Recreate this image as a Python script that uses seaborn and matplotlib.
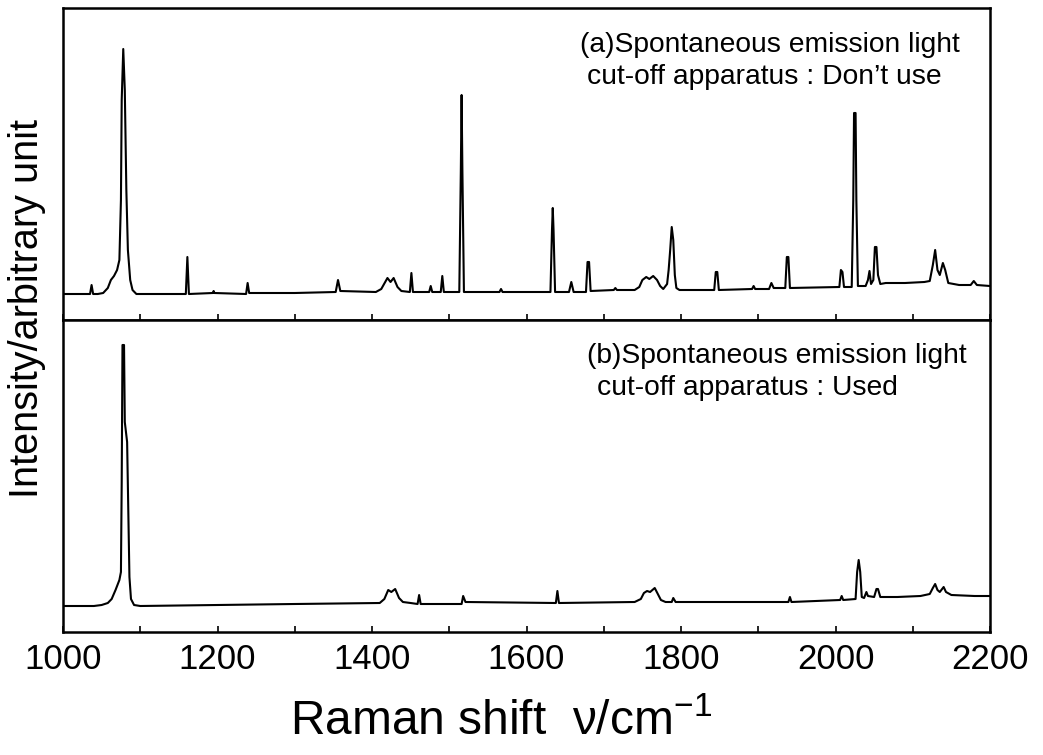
import numpy as np
import pandas as pd
import matplotlib
matplotlib.use("Agg")
import matplotlib.pyplot as plt
from matplotlib.ticker import MultipleLocator
import seaborn as sns

# ---- data (Raman shift in cm^-1, intensity in arbitrary units) ----
wn_a = [1000, 1035, 1037, 1039, 1045, 1052, 1058, 1062, 1066, 1070, 1073, 1075, 1076, 1078,
        1080, 1082, 1084, 1087, 1090, 1095, 1159, 1161, 1163, 1194, 1195, 1196, 1237, 1239,
        1241, 1300, 1353, 1356, 1359, 1405, 1412, 1420, 1424, 1428, 1433, 1438, 1449, 1451,
        1453, 1474, 1476, 1478, 1489, 1491, 1493, 1513, 1515, 1516, 1517, 1519, 1565, 1567,
        1569, 1631, 1633, 1634, 1635, 1637, 1655, 1658, 1661, 1677, 1679, 1681, 1683, 1713,
        1715, 1717, 1740, 1746, 1750, 1755, 1759, 1764, 1769, 1773, 1777, 1782, 1784, 1786,
        1788, 1790, 1792, 1794, 1798, 1843, 1845, 1847, 1849, 1892, 1894, 1896, 1914, 1917,
        1920, 1935, 1937, 1939, 1941, 2005, 2007, 2009, 2011, 2021, 2023, 2024, 2026, 2027,
        2029, 2039, 2042, 2044, 2046, 2049, 2051, 2053, 2055, 2058, 2065, 2090, 2115, 2122,
        2126, 2129, 2132, 2135, 2139, 2142, 2146, 2160, 2175, 2179, 2183, 2200]
int_a = [26, 26, 35, 26, 26, 27, 32, 40, 44, 50, 60, 120, 220, 271,
         230, 130, 70, 40, 30, 26, 26, 63, 26, 27, 29, 27, 26, 37,
         27, 27, 28, 40, 29, 28, 31, 42, 38, 42, 33, 29, 28, 47,
         28, 28, 34, 28, 28, 44, 28, 28, 150, 225, 150, 28, 28, 31,
         28, 28, 90, 112, 90, 28, 28, 38, 28, 28, 58, 58, 29, 30,
         32, 30, 30, 33, 40, 43, 41, 44, 40, 34, 31, 36, 50, 70,
         93, 80, 45, 32, 30, 30, 48, 48, 30, 31, 34, 31, 31, 37,
         32, 32, 63, 63, 32, 33, 50, 48, 33, 33, 120, 207, 207, 120,
         34, 34, 40, 49, 36, 40, 73, 73, 45, 36, 37, 37, 38, 39,
         55, 70, 50, 45, 57, 50, 37, 35, 35, 39, 35, 34]

wn_b = [1000, 1040, 1050, 1058, 1063, 1068, 1073, 1075, 1076, 1077, 1079, 1080, 1083, 1085,
        1086, 1088, 1092, 1100, 1300, 1410, 1416, 1421, 1425, 1430, 1435, 1440, 1450, 1459,
        1461, 1463, 1516, 1518, 1521, 1638, 1640, 1642, 1740, 1748, 1752, 1756, 1760, 1766,
        1770, 1774, 1780, 1788, 1790, 1793, 1900, 1939, 1941, 1943, 2006, 2008, 2010, 2026,
        2028, 2030, 2032, 2034, 2037, 2040, 2042, 2050, 2053, 2055, 2058, 2080, 2110, 2122,
        2126, 2129, 2132, 2135, 2140, 2143, 2150, 2180, 2200]
int_b = [26, 26, 27, 29, 33, 42, 52, 60, 150, 287, 287, 210, 190, 100,
         55, 33, 27, 26, 28, 29, 33, 42, 40, 43, 34, 30, 29, 28,
         37, 28, 28, 36, 30, 29, 41, 29, 30, 33, 39, 41, 40, 44,
         38, 32, 30, 30, 34, 30, 30, 30, 35, 30, 32, 36, 32, 33,
         60, 72, 60, 35, 34, 40, 36, 35, 43, 43, 35, 35, 36, 38,
         44, 48, 42, 40, 45, 40, 37, 36, 36]

tick_values = [1000, 1200, 1400, 1600, 1800, 2000, 2200]
tick_labels = ["1000", "1200", "1400", "1600", "1800", "2000", "2200"]
label_a = ["(a)Spontaneous emission light", "cut-off apparatus : Don\u2019t use"]
label_b = ["(b)Spontaneous emission light", "cut-off apparatus : Used"]

df_a = pd.DataFrame({"shift": wn_a, "intensity": int_a})
df_b = pd.DataFrame({"shift": wn_b, "intensity": int_b})

sns.set_style("white")
plt.rcParams["font.family"] = ["Liberation Sans", "DejaVu Sans"]
plt.rcParams["mathtext.fontset"] = "custom"
plt.rcParams["mathtext.rm"] = "Liberation Sans"
plt.rcParams["mathtext.it"] = "Liberation Sans"
plt.rcParams["text.color"] = "black"
plt.rcParams["xtick.color"] = "black"
plt.rcParams["xtick.labelcolor"] = "black"

fig = plt.figure(figsize=(10.43, 7.55), dpi=100)
W, H = 1043, 755
left, right = 63 / W, 990 / W
ax_a = fig.add_axes([left, (H - 320) / H, right - left, 312 / H])
ax_b = fig.add_axes([left, (H - 632) / H, right - left, 312 / H], sharex=ax_a)

for ax, df in ((ax_a, df_a), (ax_b, df_b)):
    sns.lineplot(data=df, x="shift", y="intensity", ax=ax, color="black",
                 linewidth=1.5, estimator=None, sort=False)
    ax.set_xlim(1000, 2200)
    ax.set_ylim(0, 312)
    ax.set_xlabel("")
    ax.set_ylabel("")
    ax.set_yticks([])
    for s in ax.spines.values():
        s.set_visible(True)
        s.set_linewidth(1.8)
        s.set_color("black")
    ax.xaxis.set_major_locator(MultipleLocator(200))
    ax.xaxis.set_minor_locator(MultipleLocator(100))
    ax.tick_params(axis="x", which="both", direction="in", length=4, width=1.2,
                   color="black", bottom=True, top=False)

ax_a.tick_params(axis="x", which="both", labelbottom=False)
ax_b.set_xticks(tick_values)
ax_b.set_xticklabels(tick_labels)
ax_b.tick_params(axis="x", which="major", labelsize=25, pad=8, labelcolor="black")

# panel annotations
fs = 20.3
fig.text(580 / W, (H - 52) / H, label_a[0], fontsize=fs, ha="left", va="baseline")
fig.text(587 / W, (H - 84) / H, label_a[1], fontsize=fs, ha="left", va="baseline")
fig.text(587 / W, (H - 363) / H, label_b[0], fontsize=fs, ha="left", va="baseline")
fig.text(597 / W, (H - 395) / H, label_b[1], fontsize=fs, ha="left", va="baseline")

fig.text(27 / W, (H - 308) / H, "Intensity/arbitrary unit", rotation=90,
         fontsize=28.5, ha="center", va="center")
fig.text(501 / W, (H - 735) / H, "Raman shift  \u03bd/cm$^{-1}$", fontsize=34.5,
         ha="center", va="baseline")

fig.savefig("out.png", dpi=100, facecolor="white")
